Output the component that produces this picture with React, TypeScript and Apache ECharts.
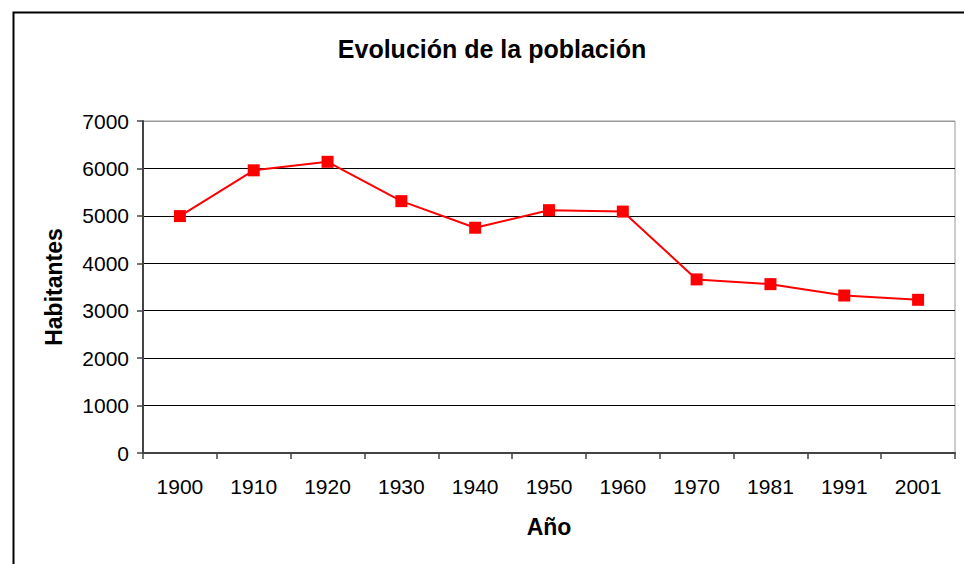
import React, { useEffect, useRef } from "react";
import * as echarts from "echarts";

const years = ["1900", "1910", "1920", "1930", "1940", "1950", "1960", "1970", "1981", "1991", "2001"];
const habitantes = [4995, 5960, 6140, 5310, 4750, 5120, 5090, 3660, 3560, 3320, 3230];
const yTicks = { min: 0, max: 7000, interval: 1000 };

const FONT = "'Liberation Sans', Arial, sans-serif";

export default function App() {
  const ref = useRef<HTMLDivElement>(null);
  useEffect(() => {
    document.body.style.margin = "0";
    const chart = echarts.init(ref.current!, null, { renderer: "svg" });
    chart.setOption({
      animation: false,
      backgroundColor: "#fff",
      title: {
        text: "Evolución de la población",
        left: 487,
        top: 31,
        textAlign: "center",
        textStyle: { fontFamily: FONT, fontSize: 25, fontWeight: "bold", color: "#000" },
      },
      graphic: [
        {
          type: "rect",
          shape: { x: 13.5, y: 12.5, width: 1000, height: 600 },
          style: { fill: "none", stroke: "#000", lineWidth: 2 },
          silent: true,
        },
      ],
      grid: {
        left: 143,
        top: 121,
        width: 812,
        height: 332,
        show: true,
        borderColor: "#999",
        borderWidth: 1,
        backgroundColor: "transparent",
      },
      xAxis: {
        type: "category",
        data: years,
        boundaryGap: true,
        name: "Año",
        nameLocation: "middle",
        nameGap: 62,
        nameTextStyle: { fontFamily: FONT, fontSize: 23, fontWeight: "bold", color: "#000" },
        axisLine: { lineStyle: { color: "#444", width: 2 } },
        axisTick: { show: true, interval: 0, alignWithLabel: false, length: 6, lineStyle: { color: "#444", width: 1.5 } },
        axisLabel: { interval: 0, margin: 23, fontFamily: FONT, fontSize: 21, color: "#000" },
        splitLine: { show: false },
      },
      yAxis: {
        type: "value",
        min: yTicks.min,
        max: yTicks.max,
        interval: yTicks.interval,
        name: "Habitantes",
        nameLocation: "middle",
        nameGap: 78,
        nameTextStyle: { fontFamily: FONT, fontSize: 23, fontWeight: "bold", color: "#000" },
        axisLine: { show: true, lineStyle: { color: "#444", width: 2 } },
        axisTick: { show: true, length: 6, lineStyle: { color: "#444", width: 1.5 } },
        axisLabel: {
          margin: 14,
          fontFamily: FONT,
          fontSize: 21,
          color: "#000",
          formatter: (v: number) => String(v),
        },
        splitLine: {
          show: true,
          lineStyle: { color: ["#000", "#000", "#000", "#000", "#000", "#000", "#000", "#999"], width: 1 },
        },
      },
      series: [
        {
          type: "line",
          data: habitantes,
          symbol: "rect",
          symbolSize: 12,
          lineStyle: { color: "#ff0000", width: 2 },
          itemStyle: { color: "#ff0000" },
        },
      ],
    });
    return () => chart.dispose();
  }, []);
  return <div ref={ref} style={{ width: 964, height: 564 }} />;
}
